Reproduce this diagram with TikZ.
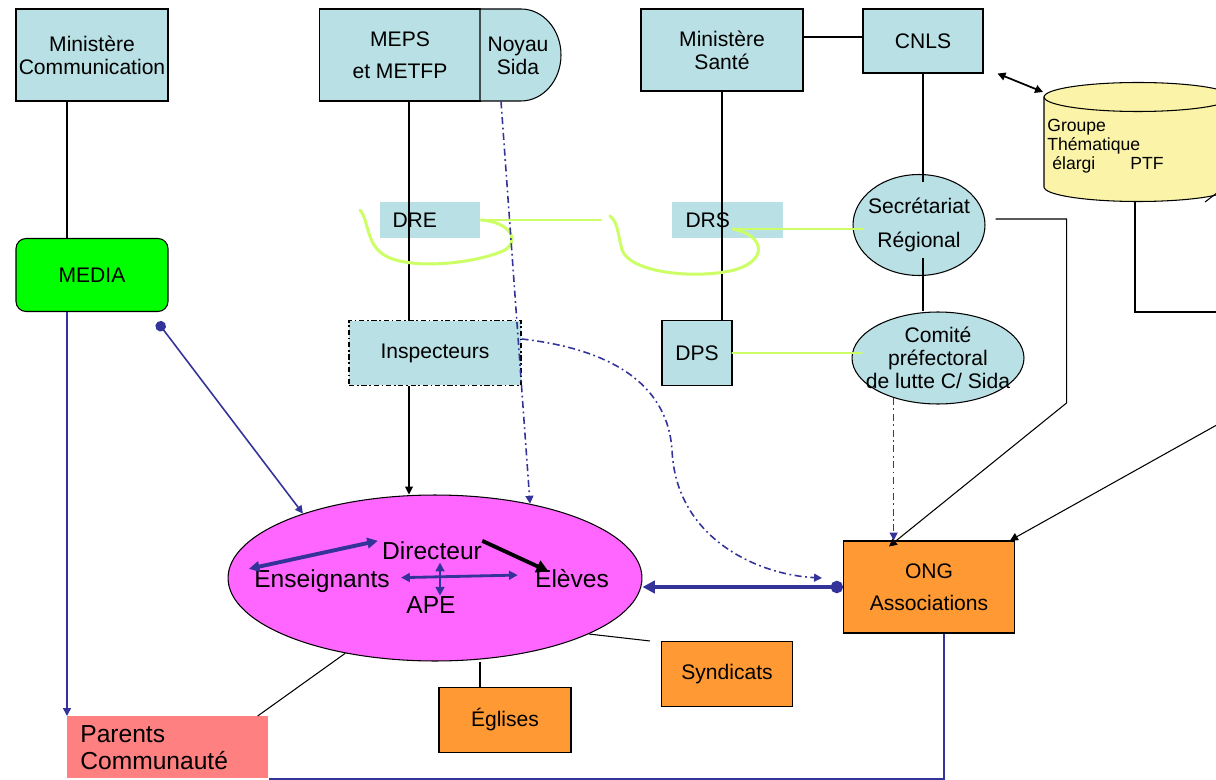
\documentclass[tikz,border=0pt]{standalone}
\usepackage{fontspec}
\setmainfont{Liberation Sans}
\usepackage{xcolor}
\usepackage{tikz}
\usetikzlibrary{shapes.geometric, arrows.meta, positioning, calc}

\definecolor{boxblue}{RGB}{185,224,228}
\definecolor{mediagreen}{RGB}{0,255,0}
\definecolor{ecolepink}{RGB}{255,102,255}
\definecolor{ongorange}{RGB}{255,153,51}
\definecolor{parentred}{RGB}{255,128,128}
\definecolor{cylyellow}{RGB}{250,243,168}
\definecolor{limeline}{RGB}{204,255,102}
\definecolor{navy}{RGB}{51,51,153}

\begin{document}
\begin{tikzpicture}[
  x=0.02cm, y=-0.02cm,
  >={Triangle[length=4.5pt, width=4.5pt]},
  every node/.style={font=\fontsize{12}{13}\selectfont},
  box/.style={draw, line width=0.6pt, fill=boxblue, inner sep=0pt, align=center},
  orangebox/.style={box, fill=ongorange},
  tagbox/.style={fill=boxblue, inner ysep=0pt, align=left},
  inner/.style={anchor=base, inner sep=0pt, font=\fontsize{14}{15}\selectfont},
  link/.style={black, line width=0.6pt},
  blueline/.style={navy, line width=0.9pt},
  bluethick/.style={navy, line width=2.2pt},
  dashdot/.style={navy, line width=0.9pt, dash pattern=on 4pt off 2pt on 1pt off 2pt},
  limeloop/.style={limeline, line width=1.7pt, line cap=round},
]
  \useasboundingbox (0,0) rectangle (1216,780);
  \clip (0,0) rectangle (1216,780);

  % ministries
  \node[box, minimum width=3.04cm, minimum height=1.84cm] (mincom) at (92,55) {Ministère\\Communication};
  \node[box, minimum width=3.22cm, minimum height=1.84cm] (meps) at (400,55) {MEPS\\[5pt]et METFP};
  \draw[line width=0.6pt, fill=boxblue] (480,9) -- (521,9) arc[start angle=90, end angle=-90, x radius=0.8cm, y radius=0.92cm] -- (480,101) -- cycle;
  \node[inner sep=0pt, minimum width=1.62cm, minimum height=1.84cm, align=center] (noyau) at (518,56) {Noyau\\Sida};
  \node[box, minimum width=3.24cm, minimum height=1.64cm] (minsan) at (722,50) {Ministère\\Santé};
  \node[box, minimum width=2.4cm, minimum height=1.28cm] (cnls) at (923,41) {CNLS};

  % cylinder
  \coordinate (cyl) at (1044,97);
  \coordinate (cylb) at (1135,202);
  \fill[cylyellow] (1044,97) rectangle (1232,187);
  \fill[cylyellow] (1138,187) ellipse [x radius=1.88cm, y radius=0.29cm];
  \draw[line width=0.6pt] (1044,97) -- (1044,187) arc[start angle=180, end angle=360, x radius=1.88cm, y radius=0.29cm] -- (1232,97);
  \draw[line width=0.6pt, fill=cylyellow] (1138,97) ellipse [x radius=1.88cm, y radius=0.29cm];
  \node[anchor=north west, inner sep=0pt, align=left, font=\fontsize{10}{10.8}\selectfont] (gt) at (1047,119) {Groupe\\Thématique\\\hspace*{0.1cm}élargi\hspace{0.7cm}PTF};

  % regional level
  \node[box, rounded corners=0.2cm, fill=mediagreen, minimum width=3.04cm, minimum height=1.46cm] (media) at (92,275) {MEDIA};
  \node[tagbox, text width=1.5cm, inner xsep=0.26cm, minimum height=0.72cm] (dre) at (430,220) {DRE};
  \node[tagbox, text width=1.66cm, inner xsep=0.28cm, minimum height=0.72cm] (drs) at (727,220) {DRS};
  \node[box, ellipse, inner sep=-0.1cm, minimum width=2.64cm, minimum height=2.02cm] (sec) at (919,225) {Secrétariat\\[6pt]Régional};
  \node[box, dash pattern=on 3pt off 1.5pt on 1pt off 1.5pt, minimum width=3.44cm, minimum height=1.3cm] (insp) at (435,353) {Inspecteurs};
  \node[box, minimum width=1.4cm, minimum height=1.3cm] (dps) at (697,353) {DPS};
  \node[box, ellipse, inner sep=-0.24cm, minimum width=3.44cm, minimum height=1.84cm] (comite) at (938,358) {Comité\\préfectoral\\de lutte C/ Sida};

  % school
  \node[draw, line width=0.6pt, ellipse, fill=ecolepink, minimum width=8.28cm, minimum height=3.32cm] (ecole) at (435,578) {};
  \node[inner] (direct) at (432,559) {Directeur};
  \node[inner] (enseig) at (322,587) {Enseignants};
  \node[inner] (eleves) at (572,587) {Elèves};
  \node[inner] (ape) at (431,613) {APE};

  % partners
  \node[orangebox, minimum width=3.42cm, minimum height=1.84cm] (ong) at (929,587) {ONG\\[5pt]Associations};
  \node[orangebox, minimum width=2.62cm, minimum height=1.3cm] (synd) at (727,674) {Syndicats};
  \node[orangebox, minimum width=2.64cm, minimum height=1.3cm] (eglises) at (505,720) {Églises};
  \node[anchor=north west, fill=parentred, text width=3.5cm, inner xsep=0.26cm, inner ysep=0.18cm, align=left, font=\fontsize{14}{15.3}\selectfont] (parents) at (67,716) {Parents\\Communauté};

  % hierarchy lines
  \draw[link] ($(mincom.south)+(-25,0)$) -- ($(media.north)+(-25,0)$);
  \draw[link] ($(meps.south)+(9,0)$) -- ($(insp.north)+(-26,0)$);
  \coordinate (ix) at ($(insp.south)+(-26,0)$);
  \draw[link, ->] (ix) -- (ix |- ecole.north);
  \coordinate (ms) at ($(minsan.east)+(0,-13)$);
  \draw[link] (ms) -- (ms -| cnls.west);
  \draw[link] (minsan.south) -- (minsan.south |- dps.north);
  \draw[link] (cnls.south) -- ($(cnls.south |- sec.north)+(0,8)$);
  \draw[link] ($(cnls.south |- sec.south)+(0,-18)$) -- (cnls.south |- comite.north);
  \draw[link, line width=1pt, <->] ($(cnls.south east)+(14,0)$) -- ($(cyl)+(-1,-5)$);

  % lines towards ONG
  \coordinate (offc) at (1240,312);
  \coordinate (offr) at (1240,412);
  \coordinate (offs) at (1226,186);
  \draw[link] (cylb) -- (cylb |- offc) -- (offc);
  \draw[link] (1205,202) -- (offs);
  \draw[link, ->] ($(sec.east)+(10,-6)$) -- ++(71,0) -- ++(0,184) -- ($(ong.north west)+(46,6)$);
  \draw[link, ->] (offr) -- ($(ong.north east)+(-5,0)$);

  % green loops
  \draw[limeloop] (dre.east) -- ++(120,0);
  \draw[limeloop] (dre.east) .. controls (510,222) and (520,240) .. (505,250)
    .. controls (480,262) and (420,270) .. (390,258) .. controls (365,248) and (370,222) .. (360,210);
  \coordinate (gd) at ($(drs.center)+(6,9)$);
  \draw[limeloop] (gd) -- ($(gd -| sec.west)+(10,0)$);
  \draw[limeloop] (gd) .. controls (765,235) and (770,262) .. (730,271)
    .. controls (690,279) and (630,272) .. (622,250) .. controls (618,235) and (618,222) .. (610,216);
  \draw[limeloop] (dps.east) -- ($(dps.east -| comite.west)+(10,0)$);

  % blue links
  \draw[dashdot, ->] ($(noyau.south)+(-17,-1)$) -- (ecole.38);
  \draw[dashdot, ->] ($(insp.north east)+(0,19)$) .. controls (620,350) and (668,390) .. (672,450)
    .. controls (676,540) and (760,575) .. ($(ong.west)+(-21,-9)$);
  \draw[dashdot, ->] (comite.222) -- (comite.222 |- ong.north);
  \draw[blueline, {Circle[length=6pt]}->] ($(media.south east)+(-11,10)$) -- (ecole.154);
  \draw[blueline, ->] ($(media.south)+(-25,0)$) -- (parents.north west);
  \coordinate (pb) at ($(parents.north east)+(0,63)$);
  \draw[blueline, line width=0.7pt] ($(ong.south)+(15,0)$) |- (pb);
  \draw[bluethick, {Circle[length=7pt]}-{Triangle[length=7pt, width=7pt]}] (ong.west) -- (ong.west -| ecole.east);

  % inside the school
  \draw[bluethick, {Triangle[length=6pt, width=6pt]}-{Triangle[length=6pt, width=6pt]}] ($(enseig.north west)+(-5,0)$) -- ($(direct.north west)+(-4,0)$);
  \draw[black, line width=2.2pt, -{Triangle[length=7pt, width=7pt]}] (direct.north east) -- ($(eleves.north west)+(14,3)$);
  \draw[blueline, line width=1.6pt, {Triangle[length=5pt, width=5pt]}-{Triangle[length=5pt, width=5pt]}] ($(enseig.east)+(11,-3)$) -- ($(eleves.west)+(-17,-3)$);
  \draw[blueline, line width=1.6pt, {Triangle[length=5pt, width=5pt]}-{Triangle[length=5pt, width=5pt]}] ($(direct.south)+(8,3)$) -- ($(ape.north)+(9,0)$);

  % other partners
  \draw[link] (ecole.220) -- ($(parents.north east)+(-11,0)$);
  \coordinate (ge) at ($(eglises.north)+(-25,0)$);
  \draw[link] (ge |- ecole.south) -- (ge);
  \draw[link] (ecole.340) -- ($(synd.north west)+(-11,0)$);
\end{tikzpicture}
\end{document}
